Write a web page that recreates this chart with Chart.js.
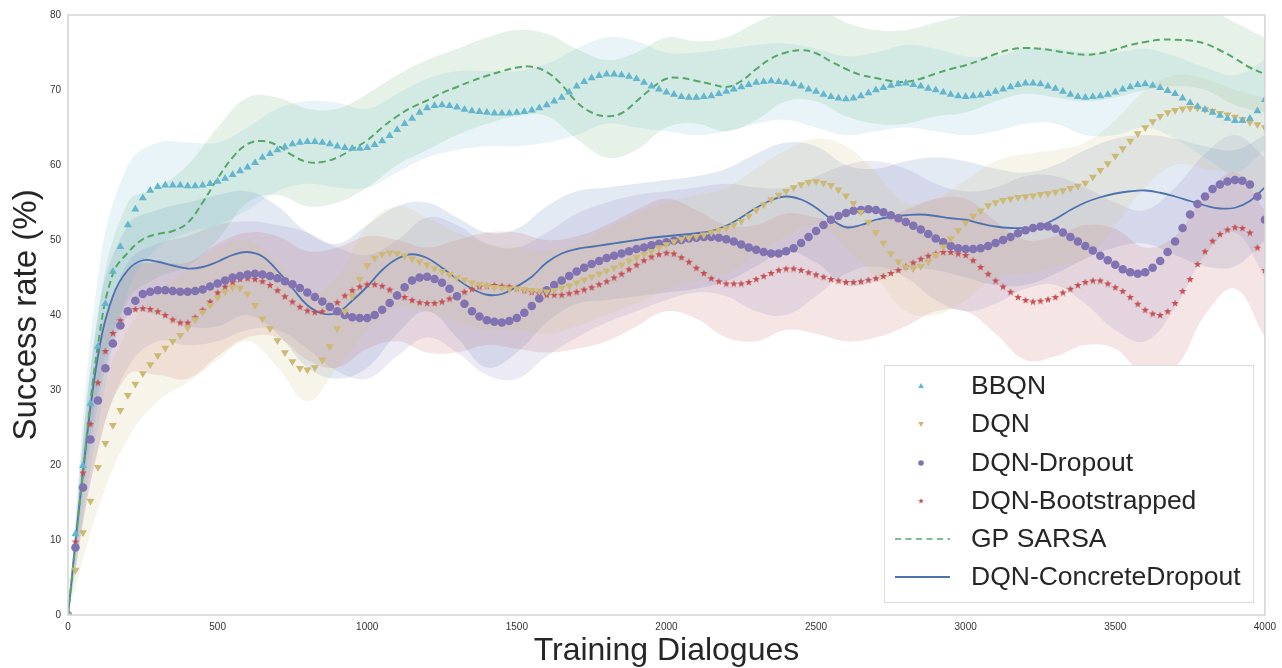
<!DOCTYPE html>
<html>
<head>
<meta charset="utf-8">
<script src="https://cdn.jsdelivr.net/npm/chart.js@4.4.0/dist/chart.umd.min.js"></script>
<style>
  html, body { margin: 0; padding: 0; background: #fff; }
  #wrap { width: 1282px; height: 668px; }
</style>
</head>
<body>
<div id="wrap"><canvas id="chart" width="1282" height="668"></canvas></div>
<script>
// x positions: marker series read every 25 dialogues, line series every 50, bands every 100
const markerSteps = Array.from({ length: 161 }, (_, i) => i * 25);
const lineSteps = Array.from({ length: 81 }, (_, i) => i * 50);
const bandSteps = Array.from({ length: 41 }, (_, i) => i * 100);

const yTicks = [0, 10, 20, 30, 40, 50, 60, 70, 80];
const xTicks = [0, 500, 1000, 1500, 2000, 2500, 3000, 3500, 4000];

const seriesNames = ["BBQN", "DQN", "DQN-Dropout", "DQN-Bootstrapped", "GP SARSA", "DQN-ConcreteDropout"];

// marker series (one row = 500 dialogues)
const bbqn = [
  0, 10.8, 19.9, 28.2, 35.8, 41.5, 45.8, 49.1, 52, 54.1, 55.6, 56.6, 57.1, 57.3, 57.3, 57.3, 57.2, 57.2, 57.3, 57.5,
  57.8, 58.2, 58.7, 59.2, 59.7, 60.3, 61, 61.5, 62, 62.4, 62.8, 63, 63.1, 63.1, 63, 62.8, 62.5, 62.3, 62.2, 62.2,
  62.3, 62.7, 63.2, 63.9, 64.7, 65.5, 66.2, 67, 67.6, 67.9, 68, 67.9, 67.7, 67.4, 67.2, 67.1, 67, 66.9, 66.9, 66.9,
  67, 67.1, 67.3, 67.6, 68, 68.5, 69, 69.7, 70.5, 71.1, 71.6, 71.9, 72.1, 72.1, 72, 71.8, 71.5, 71, 70.5, 70.1,
  69.7, 69.4, 69.1, 69, 69, 69.1, 69.2, 69.5, 69.8, 70.1, 70.4, 70.7, 71, 71.1, 71.2, 71.1, 71, 70.8, 70.5, 70.1,
  69.8, 69.4, 69.1, 68.9, 68.8, 68.9, 69.2, 69.6, 70, 70.3, 70.6, 70.8, 70.9, 70.7, 70.5, 70.2, 70, 69.7, 69.4, 69.2,
  69.1, 69.2, 69.3, 69.5, 69.8, 70.1, 70.4, 70.7, 70.9, 70.9, 70.8, 70.5, 70.2, 69.8, 69.4, 69.1, 69, 69.1, 69.2, 69.4,
  69.7, 70.1, 70.4, 70.7, 70.8, 70.6, 70.3, 69.9, 69.5, 68.9, 68.3, 67.8, 67.4, 67, 66.6, 66.2, 65.9, 65.9, 66.2, 67.2,
  68.7];
const dqn = [
  0, 6, 11, 15.2, 19.7, 22.9, 25.3, 27.3, 29.3, 30.8, 32.2, 33.4, 34.6, 35.6, 36.5, 37.3, 38.3, 39.4, 40.4, 41.3,
  42.3, 43.1, 43.7, 43.6, 42.8, 41.3, 39.5, 38.2, 36.6, 35, 33.8, 32.9, 32.7, 33, 34, 35.8, 38.2, 40.5, 42.5, 44.8,
  46.6, 47.6, 48.1, 48.3, 48.2, 47.9, 47.5, 47.1, 46.7, 46.2, 45.8, 45.4, 45, 44.7, 44.3, 44.1, 43.9, 43.7, 43.6, 43.5,
  43.5, 43.4, 43.3, 43.2, 43.1, 43.3, 43.6, 43.9, 44.3, 44.7, 45.1, 45.5, 45.9, 46.3, 46.7, 47.2, 47.7, 48.1, 48.5, 49,
  49.4, 49.8, 50.1, 50.3, 50.5, 50.7, 51, 51.3, 51.6, 52, 52.5, 53.2, 54, 54.7, 55.4, 56, 56.5, 57, 57.4, 57.7,
  57.8, 57.6, 57.3, 56.7, 55.9, 54.9, 53.7, 52.4, 51, 49.6, 48.2, 47.1, 46.4, 46.2, 46.5, 47.1, 48, 49.1, 50.2, 51.3,
  52.3, 53.2, 53.9, 54.6, 55, 55.3, 55.5, 55.7, 55.8, 55.9, 56.1, 56.2, 56.4, 56.6, 56.9, 57.2, 57.6, 58.4, 59.3, 60.2,
  61.2, 62.2, 63.2, 64.2, 65, 65.8, 66.5, 67, 67.3, 67.5, 67.6, 67.6, 67.4, 67.2, 66.9, 66.7, 66.4, 66.1, 65.7, 65.4,
  65];
const dqnDropout = [
  0, 9, 17, 23.4, 28.6, 32.9, 36.2, 38.6, 40.5, 41.9, 42.8, 43.1, 43.3, 43.3, 43.2, 43.1, 43.1, 43.2, 43.4, 43.8,
  44.2, 44.6, 45, 45.2, 45.4, 45.5, 45.4, 45.2, 44.9, 44.5, 44.1, 43.6, 43, 42.4, 41.8, 41.1, 40.5, 40, 39.7, 39.6,
  39.6, 40, 40.7, 41.6, 42.6, 43.7, 44.6, 45, 45.1, 44.8, 44.3, 43.5, 42.5, 41.5, 40.5, 39.8, 39.3, 39.1, 39, 39.2,
  39.6, 40.3, 41.2, 42.2, 43.3, 44, 44.6, 45.2, 45.8, 46.3, 46.8, 47.2, 47.6, 47.9, 48.2, 48.5, 48.8, 49, 49.3, 49.5,
  49.7, 49.9, 50, 50.2, 50.3, 50.4, 50.4, 50.3, 50.1, 49.8, 49.4, 49, 48.7, 48.4, 48.2, 48.2, 48.5, 48.9, 49.6, 50.4,
  51.2, 52, 52.7, 53.2, 53.6, 53.9, 54, 54.1, 54, 53.7, 53.3, 52.9, 52.4, 51.9, 51.4, 50.8, 50.2, 49.7, 49.2, 48.9,
  48.8, 48.8, 48.9, 49.2, 49.6, 50, 50.4, 50.9, 51.3, 51.6, 51.8, 51.8, 51.5, 51, 50.4, 49.8, 49.2, 48.6, 47.9, 47.3,
  46.7, 46.1, 45.7, 45.5, 45.7, 46.3, 47.2, 48.4, 49.8, 51.6, 53.4, 54.8, 55.8, 56.8, 57.4, 57.8, 58, 57.9, 57.4, 55.8,
  52.7];
const dqnBoot = [
  0, 9.8, 19, 25.5, 31, 35.2, 37.6, 39.3, 40.4, 40.8, 40.9, 40.8, 40.5, 40, 39.4, 39, 39, 39.7, 40.7, 41.8,
  43, 43.8, 44.4, 44.8, 44.9, 44.8, 44.5, 44, 43.3, 42.5, 41.8, 41.1, 40.6, 40.4, 40.5, 41, 41.7, 42.6, 43.3, 43.8,
  44.1, 44.1, 43.9, 43.4, 42.8, 42.4, 42, 41.7, 41.6, 41.6, 41.8, 42.2, 42.6, 43.1, 43.5, 43.8, 43.9, 44, 43.9, 43.8,
  43.6, 43.3, 43.1, 42.9, 42.7, 42.7, 42.7, 42.9, 43.1, 43.4, 43.7, 44.1, 44.5, 45, 45.5, 46.1, 46.7, 47.3, 47.8, 48.1,
  48.3, 48.2, 47.7, 47.1, 46.3, 45.6, 44.9, 44.5, 44.2, 44.2, 44.2, 44.4, 44.8, 45.2, 45.6, 46, 46.2, 46.2, 46, 45.7,
  45.4, 45.1, 44.8, 44.6, 44.4, 44.4, 44.5, 44.7, 44.9, 45.2, 45.6, 46, 46.5, 47, 47.5, 47.9, 48.2, 48.4, 48.4, 48.2,
  48, 47.3, 46.4, 45.5, 44.6, 43.8, 43.1, 42.4, 42, 41.8, 41.9, 42.1, 42.4, 43, 43.5, 44, 44.4, 44.6, 44.6, 44.2,
  43.7, 43.2, 42.4, 41.5, 40.7, 40.2, 40, 40.5, 41.6, 43.2, 44.8, 46.8, 48.5, 49.9, 50.8, 51.4, 51.7, 51.6, 51, 49,
  46];

// line series
const gpSarsa = [0, 19, 36, 45.5, 48.3, 50.1, 50.8, 51.2, 52.3, 55, 58.2, 61, 62.8, 63.2, 62.6, 61.3, 60.4, 60.4, 61, 62.1, 63.3,
  65, 66.5, 67.7, 68.6, 69.6, 70.4, 71.2, 71.9, 72.5, 73, 73.1, 72.4, 70.7, 68.4, 67, 66.5, 66.9, 68.5, 70.2, 71.5,
  71.6, 71.2, 70.8, 70.4, 71.2, 72.8, 74.2, 75, 75.3, 74.9, 73.8, 72.8, 72, 71.6, 71.2, 71.1, 71.5, 72.2, 72.8, 73.3,
  74, 74.8, 75.4, 75.6, 75.5, 75.2, 74.9, 74.7, 74.9, 75.4, 76, 76.4, 76.7, 76.7, 76.6, 76.2, 75.3, 74.2, 73, 72.1];
const concrete = [0, 19, 34.5, 42.5, 46, 47.3, 47.1, 46.6, 46.2, 46.4, 47.1, 48, 48.4, 47.8, 45.9, 43.6, 41.3, 40.2, 40.3, 41.9, 43.8,
  46, 47.5, 48.1, 47.6, 46.3, 44.8, 43.5, 42.7, 42.8, 43.8, 45.1, 47, 48.2, 48.8, 49.1, 49.4, 49.7, 50, 50.3, 50.5,
  50.7, 50.9, 51.2, 51.9, 53, 54.3, 55.3, 55.8, 55.4, 54.3, 52.8, 51.7, 52, 52.7, 53.1, 53.3, 53.4, 53.2, 52.9, 52.7,
  52.2, 51.8, 51.6, 51.6, 51.9, 52.8, 54, 55, 55.7, 56.2, 56.5, 56.6, 56.3, 55.8, 55.2, 54.6, 54.2, 54.3, 55.2, 57];

// shaded bands (upper / lower)
const bbqnHi = [0, 45, 60, 63, 63, 63, 65, 67.5, 68.5, 68.3, 67.5, 69.5, 71.5, 72.5, 72.5, 72.5, 73.5, 75.5, 77, 76.5, 75,
  75, 75.5, 76, 76.2, 75.5, 74.5, 75, 76, 75.5, 74.5, 74.5, 75.5, 75.5, 75, 75, 75.5, 74.5, 73, 72, 74];
const bbqnLo = [0, 25, 43, 49, 51, 52, 54, 56.5, 57.5, 57, 57, 59, 61, 62, 62.5, 62.5, 63, 64, 65.5, 65, 64.5,
  64, 64.5, 65.5, 66, 65, 64, 64.5, 65, 64.5, 64, 64.5, 65.5, 65.5, 64, 64, 65, 63.5, 61, 59, 62];
const dqnHi = [0, 28, 38, 43, 46, 49, 50, 47, 43, 45, 52, 54.5, 53, 51, 49.5, 49, 48.5, 49.5, 51.5, 53.5, 55,
  56, 57, 59.5, 62, 63.5, 62.5, 59, 55, 55.5, 58, 60.5, 61.5, 62, 63, 66, 70, 72, 71.5, 70, 69];
const dqnLo = [0, 14, 23.5, 28.5, 31, 34, 36.5, 33, 28.5, 33, 38, 41, 40.5, 39, 38, 38, 37.5, 38.5, 40, 41.5, 43.5,
  44.5, 45.5, 48, 50.5, 52, 49, 45, 40.5, 40, 42, 45, 45.5, 46.5, 47.5, 52, 57, 60, 59.5, 58.5, 55];
const dropHi = [0, 35, 47, 49.5, 50.5, 52, 52.5, 52, 51, 49, 48, 50, 53, 52, 49.5, 49, 51, 53.5, 55, 56, 56.5,
  57, 57.5, 57, 57, 58.5, 60, 60.5, 59.5, 57.5, 56.5, 57, 58.5, 58.5, 57, 55, 54, 57, 61.5, 64, 61];
const dropLo = [0, 22, 33, 36.5, 36, 36.5, 38, 38, 35.5, 32.5, 31.5, 34.5, 37, 35, 32, 31.5, 34.5, 37, 39, 40.5, 42,
  43, 42.5, 40.5, 40, 42.5, 45.5, 46.5, 45, 42, 40.5, 41.5, 43.5, 44, 41.5, 38, 36.5, 41, 48, 51, 45];
const bootHi = [0, 36, 46, 47, 47, 49.5, 51, 50.5, 48.5, 49, 50.5, 50, 49, 50, 51, 51, 50, 50.5, 52, 54, 55.5,
  54, 52, 52, 53.5, 53, 52, 52.5, 54, 55.5, 55.5, 52.5, 50, 50.5, 52, 51.5, 49, 50.5, 56, 59, 54];
const bootLo = [0, 22, 32, 32, 31.5, 34.5, 37, 37, 34, 33, 35.5, 36.5, 35, 35, 36, 35.5, 35, 35.5, 36.5, 38.5, 40.5,
  39.5, 37, 36.5, 38, 37.5, 36.5, 37, 38.5, 40.5, 40.5, 37.5, 34, 34.5, 36, 35.5, 32, 33, 40, 43.5, 37];
const gpHi = [0, 40, 55, 57, 60, 65, 69, 69, 67.5, 67.5, 69.5, 72, 74, 75.5, 77, 78, 77.5, 75.5, 74, 75, 77,
  76.5, 77, 79, 80.5, 81, 79, 78, 78, 79, 80, 81, 81.5, 81, 80.5, 81, 82, 82, 81, 79, 77];
const gpLo = [0, 30, 42, 45, 46.5, 50, 55, 56, 54.5, 55, 57, 60, 62, 64, 65.5, 66.5, 66.5, 63.5, 61, 62, 65,
  65.5, 64.5, 66, 68.5, 68.5, 66.5, 65.5, 65.5, 66.5, 67, 68.5, 69.5, 69, 68.5, 69, 70, 70.5, 70, 68, 67];
const concHi = [0, 40, 52, 54, 55, 56, 56.5, 54.5, 51, 49.5, 52, 54.5, 55, 53, 51, 51.5, 54.5, 56.5, 57, 57.5, 58,
  58.5, 59.5, 61.5, 63, 62.5, 60, 59.5, 60.5, 61, 60.5, 59.5, 59, 60, 62, 63.5, 64, 63.5, 62.5, 62, 64];
const concLo = [0, 28, 40, 40, 38.5, 38.5, 40, 37.5, 33, 31.5, 33, 37.5, 40.5, 37, 33, 35, 39, 41.5, 42, 42.5, 43,
  43.5, 44.5, 46.5, 48.5, 47, 44, 44.5, 46, 46, 45, 44, 44, 45.5, 47.5, 49, 49.5, 48, 46.5, 46.5, 50];

const colors = {
  bbqn: "#64B5CD", dqn: "#CCB974", drop: "#8172B2", boot: "#C44E52", gp: "#55A868", conc: "#4C72B0"
};
const FONT = "'Liberation Sans', Arial, sans-serif";

const pts = (xs, ys) => ys.map((y, i) => ({ x: xs[i], y: y }));

function rgba(hex, a) {
    const n = parseInt(hex.slice(1), 16);
    return `rgba(${(n >> 16) & 255},${(n >> 8) & 255},${n & 255},${a})`;
}

function starPath(ctx, cx, cy, R, r) {
    ctx.beginPath();
    for (let i = 0; i < 10; i++) {
        const rad = i % 2 === 0 ? R : r;
        const ang = -Math.PI / 2 + i * Math.PI / 5;
        const px = cx + rad * Math.cos(ang), py = cy + rad * Math.sin(ang);
        if (i === 0) ctx.moveTo(px, py); else ctx.lineTo(px, py);
    }
    ctx.closePath();
}

function makeStar(size, color) {
    const c = document.createElement('canvas');
    c.width = size; c.height = size;
    const g = c.getContext('2d');
    g.fillStyle = color;
    starPath(g, size / 2, size / 2 + 0.4, size / 2, size / 5);
    g.fill();
    return c;
}
const starImg = makeStar(8, colors.boot);

function band(hi, lo, color) {
    return [
        { data: pts(bandSteps, hi), borderWidth: 0, pointRadius: 0, tension: 0.4, fill: '+1', backgroundColor: rgba(color, 0.15), order: 5 },
        { data: pts(bandSteps, lo), borderWidth: 0, pointRadius: 0, tension: 0.4, fill: false, order: 5 }
    ];
}

function markers(ys, color, style, radius, rot) {
    return {
        data: pts(markerSteps, ys), showLine: false, pointStyle: style, pointRadius: radius,
        pointRotation: rot || 0, pointBackgroundColor: color, pointBorderColor: color, pointBorderWidth: 0, order: 1
    };
}

const datasets = [
    ...band(bbqnHi, bbqnLo, colors.bbqn),
    ...band(dqnHi, dqnLo, colors.dqn),
    ...band(dropHi, dropLo, colors.drop),
    ...band(bootHi, bootLo, colors.boot),
    ...band(gpHi, gpLo, colors.gp),
    ...band(concHi, concLo, colors.conc),
    markers(bbqn, colors.bbqn, 'triangle', 4.6),
    markers(dqn, colors.dqn, 'triangle', 4.6, 180),
    markers(dqnDropout, colors.drop, 'circle', 4.3),
    markers(dqnBoot, colors.boot, starImg, 4),
    { data: pts(lineSteps, gpSarsa), borderColor: colors.gp, borderWidth: 2, borderDash: [7, 4], pointRadius: 0, tension: 0.4, fill: false, order: 1 },
    { data: pts(lineSteps, concrete), borderColor: colors.conc, borderWidth: 1.8, pointRadius: 0, tension: 0.4, fill: false, order: 1 }
];

// frame round the plot and legend box in the lower right
const frameAndLegend = {
    id: 'frameAndLegend',
    afterDatasetsDraw(chart) {
        const { ctx, chartArea: a } = chart;
        ctx.save();
        ctx.strokeStyle = '#d4d4d4';
        ctx.lineWidth = 1.5;
        ctx.strokeRect(a.left, a.top, a.right - a.left, a.bottom - a.top);

        const bx = 884, by = 365, bw = 369, bh = 237;
        ctx.fillStyle = '#ffffff';
        ctx.fillRect(bx, by, bw, bh);
        ctx.strokeStyle = '#dcdcdc';
        ctx.lineWidth = 1;
        ctx.strokeRect(bx + 0.5, by + 0.5, bw, bh);

        const kinds = ['up', 'down', 'circle', 'star', 'dash', 'line'];
        const cols = [colors.bbqn, colors.dqn, colors.drop, colors.boot, colors.gp, colors.conc];
        const rowY = [386, 424, 463, 501, 539, 577];
        const mx = 921;
        seriesNames.forEach((name, i) => {
            const y = rowY[i];
            ctx.fillStyle = cols[i];
            ctx.strokeStyle = cols[i];
            if (kinds[i] === 'up' || kinds[i] === 'down') {
                const s = kinds[i] === 'up' ? 1 : -1;
                ctx.beginPath();
                ctx.moveTo(mx, y - 3 * s);
                ctx.lineTo(mx + 2.8, y + 2 * s);
                ctx.lineTo(mx - 2.8, y + 2 * s);
                ctx.closePath();
                ctx.fill();
            } else if (kinds[i] === 'circle') {
                ctx.beginPath();
                ctx.arc(mx, y, 2.8, 0, Math.PI * 2);
                ctx.fill();
            } else if (kinds[i] === 'star') {
                starPath(ctx, mx, y, 3, 1.2);
                ctx.fill();
            } else {
                ctx.lineWidth = kinds[i] === 'dash' ? 1.6 : 1.8;
                ctx.setLineDash(kinds[i] === 'dash' ? [6, 4.5] : []);
                ctx.beginPath();
                ctx.moveTo(895, y);
                ctx.lineTo(950, y);
                ctx.stroke();
                ctx.setLineDash([]);
            }
            ctx.fillStyle = '#262626';
            ctx.font = `26.5px ${FONT}`;
            ctx.textBaseline = 'middle';
            ctx.textAlign = 'left';
            ctx.fillText(name, 971, y + 1);
        });
        ctx.restore();
    }
};

new Chart(document.getElementById('chart').getContext('2d'), {
    type: 'line',
    data: { datasets: datasets },
    options: {
        responsive: false,
        devicePixelRatio: 1,
        animation: false,
        events: [],
        layout: { padding: { left: 0, top: 15, right: 15, bottom: 0 } },
        plugins: { legend: { display: false }, tooltip: { enabled: false } },
        scales: {
            x: {
                type: 'linear', min: 0, max: 4000,
                afterFit(scale) { scale.height = 53; },
                afterBuildTicks(scale) { scale.ticks = xTicks.map(v => ({ value: v })); },
                grid: { display: false, drawTicks: false },
                border: { display: false },
                ticks: { padding: 6, color: '#333', font: { family: FONT, size: 10 }, callback: v => String(v), maxRotation: 0 },
                title: { display: true, text: 'Training Dialogues', color: '#262626', font: { family: FONT, size: 32, lineHeight: 1 }, padding: { top: 0, bottom: 1 } }
            },
            y: {
                min: 0, max: 80,
                afterFit(scale) { scale.width = 68; },
                afterBuildTicks(scale) { scale.ticks = yTicks.map(v => ({ value: v })); },
                grid: { display: false, drawTicks: false },
                border: { display: false },
                ticks: { padding: 7, color: '#333', font: { family: FONT, size: 10 }, callback: v => String(v) },
                title: { display: true, text: 'Success rate (%)', color: '#262626', font: { family: FONT, size: 33, lineHeight: 1 }, padding: { top: 10, bottom: 0 } }
            }
        }
    },
    plugins: [frameAndLegend]
});
</script>
</body>
</html>
